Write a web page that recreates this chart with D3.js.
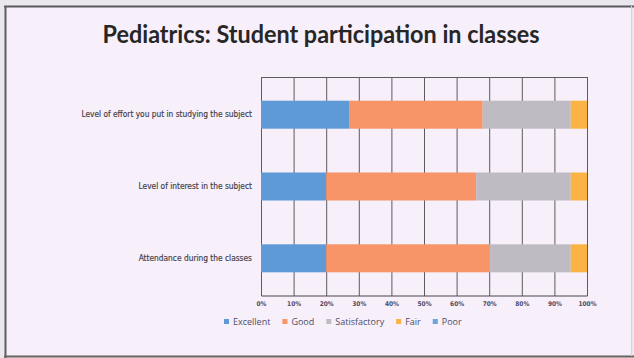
<!DOCTYPE html>
<html>
<head>
<meta charset="utf-8">
<script src="https://cdn.jsdelivr.net/npm/d3@7"></script>
<style>
  html, body { margin: 0; padding: 0; background: #ece8ee; }
  svg { display: block; }
</style>
</head>
<body>
<svg id="chart" width="634" height="358"></svg>
<script>
// Survey categories (top to bottom) and rating shares in percent
const categories = [
  "Level of effort you put in studying the subject",
  "Level of interest in the subject",
  "Attendance during the classes"
];
const seriesNames = ["Excellent", "Good", "Satisfactory", "Fair", "Poor"];
const excellent    = [27, 20, 20];
const good         = [41, 46, 50];
const satisfactory = [27, 29, 25];
const fair         = [5, 5, 5];
const poor         = [0, 0, 0];
const tickValues   = [0, 10, 20, 30, 40, 50, 60, 70, 80, 90, 100];
const tickLabels   = ["0%", "10%", "20%", "30%", "40%", "50%", "60%", "70%", "80%", "90%", "100%"];

const colors = {
  Excellent: "#5e9ad6",
  Good: "#f79468",
  Satisfactory: "#bebbc2",
  Fair: "#fbb443",
  Poor: "#6aa5dc"
};

const rows = categories.map((c, i) => ({
  category: c,
  Excellent: excellent[i],
  Good: good[i],
  Satisfactory: satisfactory[i],
  Fair: fair[i],
  Poor: poor[i]
}));

const svg = d3.select("#chart");

// Slide background and frame
svg.append("rect").attr("x", 0).attr("y", 0).attr("width", 634).attr("height", 358).attr("fill", "#ebe7ec");
svg.append("rect").attr("x", 5).attr("y", 6).attr("width", 626).attr("height", 349).attr("fill", "#f7effa");
svg.append("line").attr("x1", 4).attr("x2", 634).attr("y1", 6.5).attr("y2", 6.5).attr("stroke", "#5a5a60").attr("stroke-width", 2);
svg.append("line").attr("x1", 5.5).attr("x2", 5.5).attr("y1", 6).attr("y2", 358).attr("stroke", "#5f5f66").attr("stroke-width", 2);
svg.append("line").attr("x1", 4).attr("x2", 634).attr("y1", 356.5).attr("y2", 356.5).attr("stroke", "#6b6460").attr("stroke-width", 2);
svg.append("line").attr("x1", 631.5).attr("x2", 631.5).attr("y1", 6).attr("y2", 356).attr("stroke", "#d8d2da").attr("stroke-width", 1);

// Title
svg.append("text")
  .attr("x", 321).attr("y", 43)
  .attr("text-anchor", "middle")
  .attr("font-family", "Lato, 'Open Sans', sans-serif")
  .attr("font-weight", "bold")
  .attr("font-size", 24)
  .attr("fill", "#262626")
  .attr("textLength", 437)
  .attr("lengthAdjust", "spacingAndGlyphs")
  .text("Pediatrics: Student participation in classes");

// Plot area
const x = d3.scaleLinear().domain([0, 100]).range([261, 587]);
const y = d3.scaleBand().domain(categories).range([77, 296]).paddingInner(0.61).paddingOuter(0.33);

// Gridlines
const g = svg.append("g");
g.selectAll("line.grid")
  .data(tickValues)
  .join("line")
  .attr("class", "grid")
  .attr("x1", d => x(d) + 0.5).attr("x2", d => x(d) + 0.5)
  .attr("y1", 77).attr("y2", 296)
  .attr("stroke", "#5e5a62").attr("stroke-width", 1);
g.append("line").attr("x1", 261).attr("x2", 588).attr("y1", 77.5).attr("y2", 77.5).attr("stroke", "#5e5a62");

// Stacked bars
const stack = d3.stack().keys(seriesNames);
const layers = stack(rows);
svg.append("g").selectAll("g")
  .data(layers)
  .join("g")
  .attr("fill", d => colors[d.key])
  .selectAll("rect")
  .data(d => d)
  .join("rect")
  .attr("x", d => x(d[0]))
  .attr("y", d => y(d.data.category))
  .attr("width", d => x(d[1]) - x(d[0]))
  .attr("height", y.bandwidth());

// Bottom axis
const xAxis = d3.axisBottom(x)
  .tickValues(tickValues)
  .tickFormat((d, i) => tickLabels[i])
  .tickSize(0)
  .tickPadding(6);
const ax = svg.append("g").attr("transform", "translate(0,295.5)").call(xAxis);
ax.select(".domain").attr("stroke", "#4a484c").attr("stroke-width", 1.2);
ax.selectAll("text")
  .attr("font-family", "'DejaVu Sans Condensed', 'Liberation Sans Narrow', sans-serif")
  .attr("font-size", 6.5)
  .attr("font-weight", "bold")
  .attr("fill", "#4e4c66");

// Category labels
const yAxis = d3.axisLeft(y).tickSize(0).tickPadding(9);
const ay = svg.append("g").attr("transform", "translate(261,0)").call(yAxis);
ay.select(".domain").remove();
ay.selectAll("text")
  .attr("font-family", "'Liberation Sans Narrow', 'DejaVu Sans Condensed', sans-serif")
  .attr("font-size", 8.3)
  .attr("fill", "#3e3c48")
  .attr("stroke", "#3e3c48")
  .attr("stroke-width", 0.15);

// Legend
const legend = svg.append("g").attr("transform", "translate(224,322)");
let lx = 0;
seriesNames.forEach(name => {
  const item = legend.append("g").attr("transform", `translate(${lx},0)`);
  item.append("rect").attr("x", 0).attr("y", -3).attr("width", 5).attr("height", 5).attr("fill", colors[name]);
  const t = item.append("text")
    .attr("x", 9).attr("y", 3)
    .attr("font-family", "'Open Sans', sans-serif")
    .attr("font-size", 9)
    .attr("fill", "#4e4c66")
    .text(name);
  lx += 9 + t.node().getComputedTextLength() + 12;
});
</script>
</body>
</html>
